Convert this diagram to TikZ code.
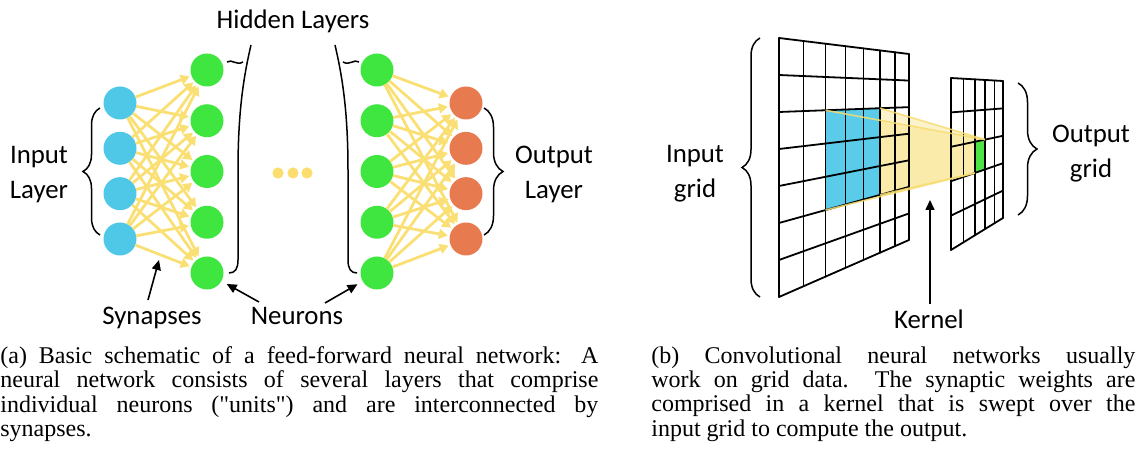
\documentclass[tikz,border=0pt]{standalone}
\usepackage{fontspec}
\setmainfont{Liberation Serif}
\newfontfamily\calibri{Carlito}
\usetikzlibrary{arrows.meta,decorations.pathreplacing}
\definecolor{nblue}{RGB}{79,200,232}
\definecolor{ngreen}{RGB}{64,230,64}
\definecolor{norange}{RGB}{232,122,80}
\definecolor{synyel}{RGB}{250,224,116}
\definecolor{dotyel}{RGB}{252,222,112}
\definecolor{kblue}{RGB}{91,203,234}
\definecolor{kgreen}{RGB}{78,226,70}
\definecolor{kyel}{RGB}{246,220,110}
\tikzset{
  neuron/.style={circle, minimum size=16.5pt, inner sep=0pt, outer sep=0pt},
  inp/.style={neuron, fill=nblue},
  hid/.style={neuron, fill=ngreen},
  outn/.style={neuron, fill=norange},
  dotn/.style={circle, minimum size=5.6pt, inner sep=0pt, fill=dotyel},
  syn/.style={draw=synyel, line width=1.4pt, shorten >=1pt, -{Triangle[length=4.5pt,width=5pt]}},
  lbl/.style={font=\calibri\fontsize{13.4}{17.5}\selectfont, align=center, inner sep=0pt},
  pointer/.style={draw=black, line width=0.8pt, -{Triangle[length=5pt,width=4.5pt]}},
  bline/.style={draw=black, line width=0.75pt},
  bracel/.style={draw=black, line width=0.75pt, decorate, decoration={brace, amplitude=#1}},
  gridline/.style={draw=black, line width=0.9pt, line cap=round, line join=round},
  kfill/.style={fill=kyel, fill opacity=0.35},
  kline/.style={draw=kyel, line width=0.8pt, draw opacity=0.85},
  capt/.style={inner sep=0pt, anchor=north west, align=justify, font=\fontsize{12}{12.2}\selectfont},
}
\begin{document}
\begin{tikzpicture}[x=0.5pt, y=-0.5pt]
\useasboundingbox (0,0) rectangle (1137,459);

% ---------------- (a) feed-forward network ----------------
\foreach \k in {1,...,4} {
  \node[inp]  (i\k) at (120, {103+45.33*(\k-1)}) {};
  \node[outn] (o\k) at (466, {103+45.33*(\k-1)}) {};
}
\foreach \k in {1,...,5} {
  \node[hid] (h\k) at (207, {70+50.75*(\k-1)}) {};
  \node[hid] (g\k) at (377, {70+50.75*(\k-1)}) {};
}
\foreach \a in {1,...,4} \foreach \b in {1,...,5} {
  \draw[syn] (i\a) -- (h\b);
  \draw[syn] (g\b) -- (o\a);
}
\node[dotn] (d1) at (278,173) {};
\node[dotn] (d2) at (293,173) {};
\node[dotn] (d3) at (307,173) {};

% braces
\draw[bracel=8.5pt] (100,235) -- (100,108);
\draw[bracel=9.5pt] (484,108) -- (484,235);
\draw[bline] (251,45) .. controls (244,75) and (238,110) .. (238,170) -- (238,260) .. controls (238,269) and (235,273) .. (229,273);
\draw[bline] (227,62) .. controls (232,58.5) and (236,66) .. (243,62);
\draw[bline] (335,45) .. controls (342,75) and (348,110) .. (348,170) -- (348,260) .. controls (348,269) and (351,273) .. (357,273);
\draw[bline] (359,62) .. controls (354,58.5) and (350,66) .. (343,62);

% labels
\node[lbl] (inl) at (39,174.5) {Input\\Layer};
\node[lbl] (outl) at (554,174.5) {Output\\Layer};
\node[lbl, anchor=base] (hidl) at (293,28.5) {Hidden Layers};
\node[lbl, anchor=base] (synl) at (152,325) {Synapses};
\node[lbl, anchor=base] (neul) at (297,325) {Neurons};
\coordinate (synTip) at (159,260);
\coordinate (synStart) at (148,300);
\coordinate (neuA) at (259,302);
\coordinate (neuB) at (325,303);
\draw[pointer] (synStart) -- (synTip);
\draw[pointer, shorten >=3pt] (neuA) -- (h5);
\draw[pointer, shorten >=3pt] (neuB) -- (g5);

% ---------------- (b) convolution ----------------
% kernel (blue) in input grid
\fill[kblue] (825.5,110.3) -- (880,108.2) -- (880,194.9) -- (825.5,210.1) -- cycle;
% yellow projection
\fill[kfill] (880,108.2) -- (985,139.6) -- (974.7,173.0) -- (880,194.9) -- cycle;
\fill[kfill] (880,120.3) -- (985,139.6) -- (974.7,173.0) -- (880,194.9) -- cycle;
% output cell
\fill[kgreen] (974.7,141.8) -- (985,139.6) -- (985,169.4) -- (974.7,173.0) -- cycle;
% input grid
\foreach \x in {779,803.5,825.5,845.4,863.5,880.0,895.1,909}
  \draw[gridline] (\x,{38+(\x-779)*16/130}) -- (\x,{297-(\x-779)*57/130});
\foreach \j in {0,...,7}
  \draw[gridline] (779,{38+37*\j}) -- (909,{54+26.5714*\j});
% output grid
\foreach \x in {951,963.4,974.7,985.0,994.4,1003}
  \draw[gridline] (\x,{78+(\x-951)*3/52}) -- (\x,{250-(\x-951)*32/52});
\foreach \j in {0,...,5}
  \draw[gridline] (951,{78+34.4*\j}) -- (1003,{81+27.4*\j});
% kernel edges
\draw[kline] (825.5,110.3) -- (985,139.6);
\draw[kline] (880,108.2) -- (985,139.6);
\draw[kline] (825.5,210.1) -- (974.7,173.0);
\draw[kline] (880,194.9) -- (974.7,173.0);

% braces
\draw[bracel=9pt] (760,297) -- (760,38);
\draw[bracel=9.5pt] (1018,83) -- (1018,215);

% labels
\node[lbl] (ingrid) at (695,174) {Input\\grid};
\node[lbl] (outgrid) at (1091,154) {Output\\grid};
\node[lbl, anchor=base] (kern) at (929,329) {Kernel};
\coordinate (kTip) at (930,200);
\coordinate (kStart) at (930,304);
\draw[pointer] (kStart) -- (kTip);

% ---------------- captions ----------------
\node[capt, text width=299pt] (capa) at (0,346) {(a) Basic schematic of a feed-forward neural network: A\linebreak neural network consists of several layers that comprise\linebreak individual neurons (\textquotedbl units\textquotedbl) and are interconnected by\linebreak synapses.};
\node[capt, text width=242pt] (capb) at (651,346) {(b) Convolutional neural networks usually\linebreak work on grid data.\ \ The synaptic weights are\linebreak comprised in a kernel that is swept over the\linebreak input grid to compute the output.};
\end{tikzpicture}
\end{document}
